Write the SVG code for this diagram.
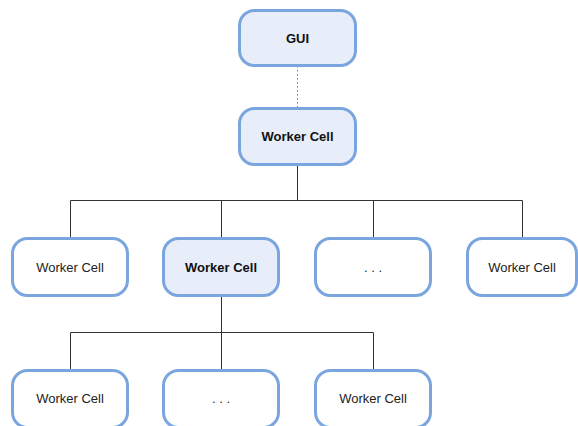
<svg xmlns="http://www.w3.org/2000/svg" width="578" height="426" viewBox="0 0 578 426">
<style>
.box{fill:#ffffff;stroke:#7aa5de;stroke-width:3}
.hl{fill:#e7eef9}
.t{font-family:"Liberation Sans",Arial,sans-serif;font-size:13px;fill:#222;text-anchor:middle;dominant-baseline:central}
.b{font-weight:bold;fill:#111}
.c{fill:none;stroke:#333;stroke-width:1}
.d{fill:none;stroke:#777;stroke-width:1;stroke-dasharray:1.5 2.5}
</style>
<rect width="578" height="426" fill="#ffffff"/>
<g id="connectors">
<line class="d" x1="297.5" y1="66" x2="297.5" y2="107"/>
<path class="c" d="M297.5 165V200.5M70.5 238V200.5H522.5V238M221.5 200.5V238M373.5 200.5V238"/>
<path class="c" d="M221.5 296V332.5M70.5 370V332.5H373.5V370M221.5 332.5V370"/>
</g>
<g id="gui"><rect class="box hl" x="239.5" y="10.5" width="116" height="55" rx="15"/><text class="t b" x="297.5" y="38">GUI</text></g>
<g id="worker-top"><rect class="box hl" x="239.5" y="108.5" width="116" height="56" rx="15"/><text class="t b" x="297.5" y="136.5">Worker Cell</text></g>
<g id="worker-2a"><rect class="box" x="12.5" y="238.5" width="115" height="57" rx="15"/><text class="t" x="70" y="267">Worker Cell</text></g>
<g id="worker-2b"><rect class="box hl" x="163.5" y="238.5" width="115" height="57" rx="15"/><text class="t b" x="221" y="267">Worker Cell</text></g>
<g id="dots-2c"><rect class="box" x="315.5" y="238.5" width="115" height="57" rx="15"/><text class="t" x="373" y="267">. . .</text></g>
<g id="worker-2d"><rect class="box" x="467.5" y="238.5" width="109" height="57" rx="15"/><text class="t" x="522" y="267">Worker Cell</text></g>
<g id="worker-3a"><rect class="box" x="12.5" y="370.5" width="115" height="57" rx="15"/><text class="t" x="70" y="398">Worker Cell</text></g>
<g id="dots-3b"><rect class="box" x="163.5" y="370.5" width="115" height="57" rx="15"/><text class="t" x="221" y="398">. . .</text></g>
<g id="worker-3c"><rect class="box" x="315.5" y="370.5" width="115" height="57" rx="15"/><text class="t" x="373" y="398">Worker Cell</text></g>
</svg>
